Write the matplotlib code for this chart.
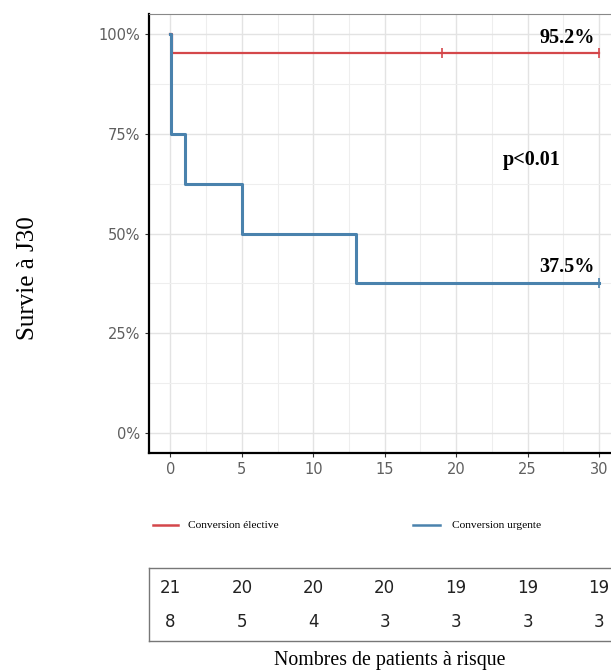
import matplotlib.pyplot as plt
from matplotlib.ticker import MultipleLocator, PercentFormatter

# Kaplan-Meier steps
elective_t = [0, 0.1, 30]
elective_s = [1.0, 0.952, 0.952]
elective_censor_t = [19, 30]

urgent_t = [0, 0.05, 1, 5, 13, 30]
urgent_s = [1.0, 0.75, 0.625, 0.50, 0.375, 0.375]
urgent_censor_t = [30]

risk_times = [0, 5, 10, 15, 20, 25, 30]
risk_elective = [21, 20, 20, 20, 19, 19, 19]
risk_urgent = [8, 5, 4, 3, 3, 3, 3]

RED = "#d4474a"
BLUE = "#4a82ad"
W, H = 611, 671

fig = plt.figure(figsize=(W / 100, H / 100), dpi=100)

# main axes (extends past the right edge, as in the cropped original)
ax = fig.add_axes([149 / W, 1 - 453 / H, 500 / W, (453 - 14) / H])
ax.step(elective_t, elective_s, where="post", color=RED, lw=1.6, zorder=3)
ax.step(urgent_t, urgent_s, where="post", color=BLUE, lw=2.2, zorder=3)
ax.plot(elective_censor_t, [0.952] * len(elective_censor_t), "|", color=RED, ms=7, mew=1.2)
ax.plot(urgent_censor_t, [0.375], "|", color=BLUE, ms=7, mew=1.2)

ax.set_xlim(-1.5, 33.5)
ax.set_ylim(-0.05, 1.05)
ax.xaxis.set_major_locator(MultipleLocator(5))
ax.xaxis.set_minor_locator(MultipleLocator(2.5))
ax.yaxis.set_major_locator(MultipleLocator(0.25))
ax.yaxis.set_minor_locator(MultipleLocator(0.125))
ax.yaxis.set_major_formatter(PercentFormatter(1.0, decimals=0))
ax.grid(which="major", color="#e3e3e3", lw=1.0)
ax.grid(which="minor", color="#eeeeee", lw=0.8)
ax.set_axisbelow(True)
ax.tick_params(which="minor", length=0)
ax.tick_params(which="major", colors="#333333", labelcolor="#5f5f5f", labelsize=10.5, length=3)
for s in ["left", "bottom"]:
    ax.spines[s].set_color("black")
    ax.spines[s].set_linewidth(1.6)
ax.spines["top"].set_color("#888888")
ax.spines["right"].set_visible(False)

serif = "Liberation Serif"
ax.text(29.7, 0.965, "95.2%", ha="right", va="bottom", fontsize=14.5, fontweight="bold", family=serif)
ax.text(25.25, 0.685, "p<0.01", ha="center", va="center", fontsize=14.5, fontweight="bold", family=serif)
ax.text(29.7, 0.39, "37.5%", ha="right", va="bottom", fontsize=14.5, fontweight="bold", family=serif)

fig.text(28 / W, 1 - 278 / H, "Survie à J30", rotation=90, ha="center", va="center",
         fontsize=18, family=serif)

# legend
fig.lines.append(plt.Line2D([153 / W, 178 / W], [1 - 525 / H] * 2, color=RED, lw=1.8,
                            transform=fig.transFigure))
fig.text(188 / W, 1 - 525 / H, "Conversion élective", ha="left", va="center", fontsize=8.2, family=serif)
fig.lines.append(plt.Line2D([413 / W, 440 / W], [1 - 525 / H] * 2, color=BLUE, lw=1.8,
                            transform=fig.transFigure))
fig.text(452 / W, 1 - 525 / H, "Conversion urgente", ha="left", va="center", fontsize=8.2, family=serif)

# risk table
tab = fig.add_axes([149 / W, 1 - 641 / H, 500 / W, (641 - 568) / H])
tab.set_xlim(ax.get_xlim())
tab.set_ylim(0, 1)
for t, n in zip(risk_times, risk_elective):
    tab.text(t, 0.726, str(n), ha="center", va="center", fontsize=12, color="#222222")
for t, n in zip(risk_times, risk_urgent):
    tab.text(t, 0.26, str(n), ha="center", va="center", fontsize=12, color="#222222")
tab.set_xticks([])
tab.set_yticks([])
for s in tab.spines.values():
    s.set_color("#777777")
    s.set_linewidth(1.0)

fig.text(390 / W, 1 - 660 / H, "Nombres de patients à risque", ha="center", va="center",
         fontsize=14.3, family=serif)

fig.savefig("out.png", dpi=100)
